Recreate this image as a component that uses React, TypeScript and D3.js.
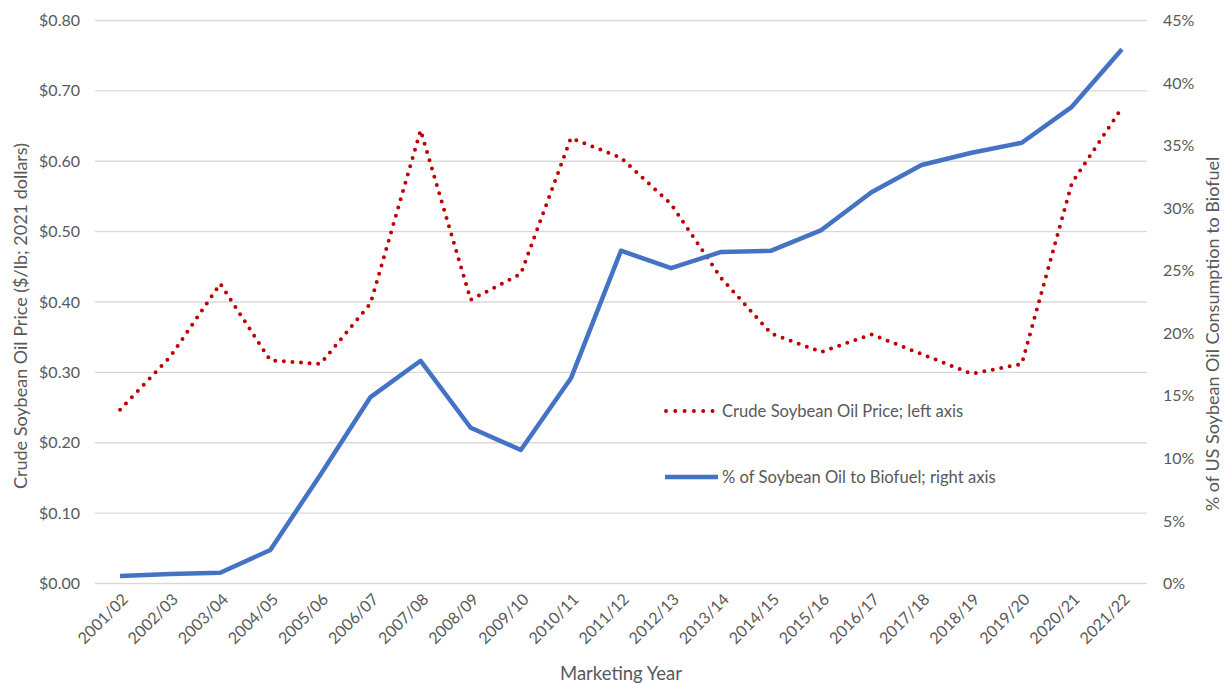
import React from "react";
import * as d3 from "d3";

const years = [
  "2001/02", "2002/03", "2003/04", "2004/05", "2005/06", "2006/07", "2007/08",
  "2008/09", "2009/10", "2010/11", "2011/12", "2012/13", "2013/14", "2014/15",
  "2015/16", "2016/17", "2017/18", "2018/19", "2019/20", "2020/21", "2021/22",
];

// Crude soybean oil price, $/lb in 2021 dollars (left axis)
const oilPrice = [
  0.247, 0.322, 0.426, 0.317, 0.312, 0.398, 0.644, 0.403, 0.44, 0.633, 0.605,
  0.539, 0.434, 0.355, 0.329, 0.354, 0.326, 0.298, 0.312, 0.569, 0.676,
];

// Share of US soybean oil consumption going to biofuel, % (right axis)
const biofuelShare = [
  0.6, 0.75, 0.86, 2.68, 8.7, 14.9, 17.8, 12.45, 10.67, 16.4, 26.6, 25.2, 26.5,
  26.6, 28.25, 31.27, 33.45, 34.43, 35.23, 38.1, 42.7,
];

const leftTicks = [0, 0.1, 0.2, 0.3, 0.4, 0.5, 0.6, 0.7, 0.8];
const rightTicks = [0, 5, 10, 15, 20, 25, 30, 35, 40, 45];

const W = 1228;
const H = 684;
const plot = { left: 95, right: 1147, top: 20.5, bottom: 583.5 };
const FONT = "Lato, 'Open Sans', sans-serif";
const TEXT = "#595959";
const RED = "#c00000";
const BLUE = "#4472c4";

export default function App() {
  const x = d3
    .scaleBand<string>()
    .domain(years)
    .range([plot.left, plot.right])
    .padding(0);
  const cx = (d: string) => (x(d) as number) + x.bandwidth() / 2;

  const yLeft = d3.scaleLinear().domain([0, 0.8]).range([plot.bottom, plot.top]);
  const yRight = d3.scaleLinear().domain([0, 45]).range([plot.bottom, plot.top]);

  const priceLine = d3
    .line<number>()
    .x((_, i) => cx(years[i]))
    .y((v) => yLeft(v));

  const shareLine = d3
    .line<number>()
    .x((_, i) => cx(years[i]))
    .y((v) => yRight(v));

  return (
    <div style={{ position: "absolute", left: 0, top: 0 }}>
      <svg width={W} height={H} style={{ display: "block", background: "#fff" }}>
        {/* horizontal gridlines */}
        {leftTicks.map((t) => (
          <line
            key={"g" + t}
            x1={plot.left}
            x2={plot.right}
            y1={yLeft(t)}
            y2={yLeft(t)}
            stroke="#d9d9d9"
            strokeWidth={1.3}
          />
        ))}

        {/* left axis labels */}
        {leftTicks.map((t) => (
          <text
            key={"l" + t}
            x={80}
            y={yLeft(t)}
            dy="0.35em"
            textAnchor="end"
            fontFamily={FONT}
            fontSize={16}
            fill={TEXT}
          >
            {"$" + d3.format(".2f")(t)}
          </text>
        ))}

        {/* right axis labels */}
        {rightTicks.map((t) => (
          <text
            key={"r" + t}
            x={1163}
            y={yRight(t)}
            dy="0.35em"
            textAnchor="start"
            fontFamily={FONT}
            fontSize={16}
            fill={TEXT}
          >
            {t + "%"}
          </text>
        ))}

        {/* category labels */}
        {years.map((d) => (
          <text
            key={"x" + d}
            transform={`translate(${cx(d) + 5},${plot.bottom + 13}) rotate(-45)`}
            textAnchor="end"
            dy="0.35em"
            fontFamily={FONT}
            fontSize={16}
            fill={TEXT}
          >
            {d}
          </text>
        ))}

        {/* axis titles */}
        <text
          transform="translate(21,316) rotate(-90)"
          textAnchor="middle"
          dy="0.35em"
          fontFamily={FONT}
          fontSize={18}
          fill={TEXT}
        >
          Crude Soybean Oil Price ($/lb; 2021 dollars)
        </text>
        <text
          transform="translate(1213,334) rotate(-90)"
          textAnchor="middle"
          dy="0.35em"
          fontFamily={FONT}
          fontSize={18}
          fill={TEXT}
        >
          % of US Soybean Oil Consumption to Biofuel
        </text>
        <text
          x={621}
          y={674}
          dy="0.35em"
          textAnchor="middle"
          fontFamily={FONT}
          fontSize={18.5}
          fill={TEXT}
        >
          Marketing Year
        </text>

        {/* series */}
        <path
          d={priceLine(oilPrice) || ""}
          fill="none"
          stroke={RED}
          strokeWidth={4}
          strokeLinecap="round"
          strokeDasharray="0 8.6"
        />
        <path
          d={shareLine(biofuelShare) || ""}
          fill="none"
          stroke={BLUE}
          strokeWidth={4.5}
          strokeLinejoin="round"
        />

        {/* legend */}
        <line
          x1={666}
          x2={713}
          y1={411}
          y2={411}
          stroke={RED}
          strokeWidth={4}
          strokeLinecap="round"
          strokeDasharray="0 9.3"
        />
        <text x={722} y={411} dy="0.35em" fontFamily={FONT} fontSize={16.6} fill={TEXT}>
          Crude Soybean Oil Price; left axis
        </text>
        <line
          x1={665}
          x2={718}
          y1={477}
          y2={477}
          stroke={BLUE}
          strokeWidth={4.5}
        />
        <text x={722} y={477} dy="0.35em" fontFamily={FONT} fontSize={16.6} fill={TEXT}>
          % of Soybean Oil to Biofuel; right axis
        </text>
      </svg>
    </div>
  );
}
